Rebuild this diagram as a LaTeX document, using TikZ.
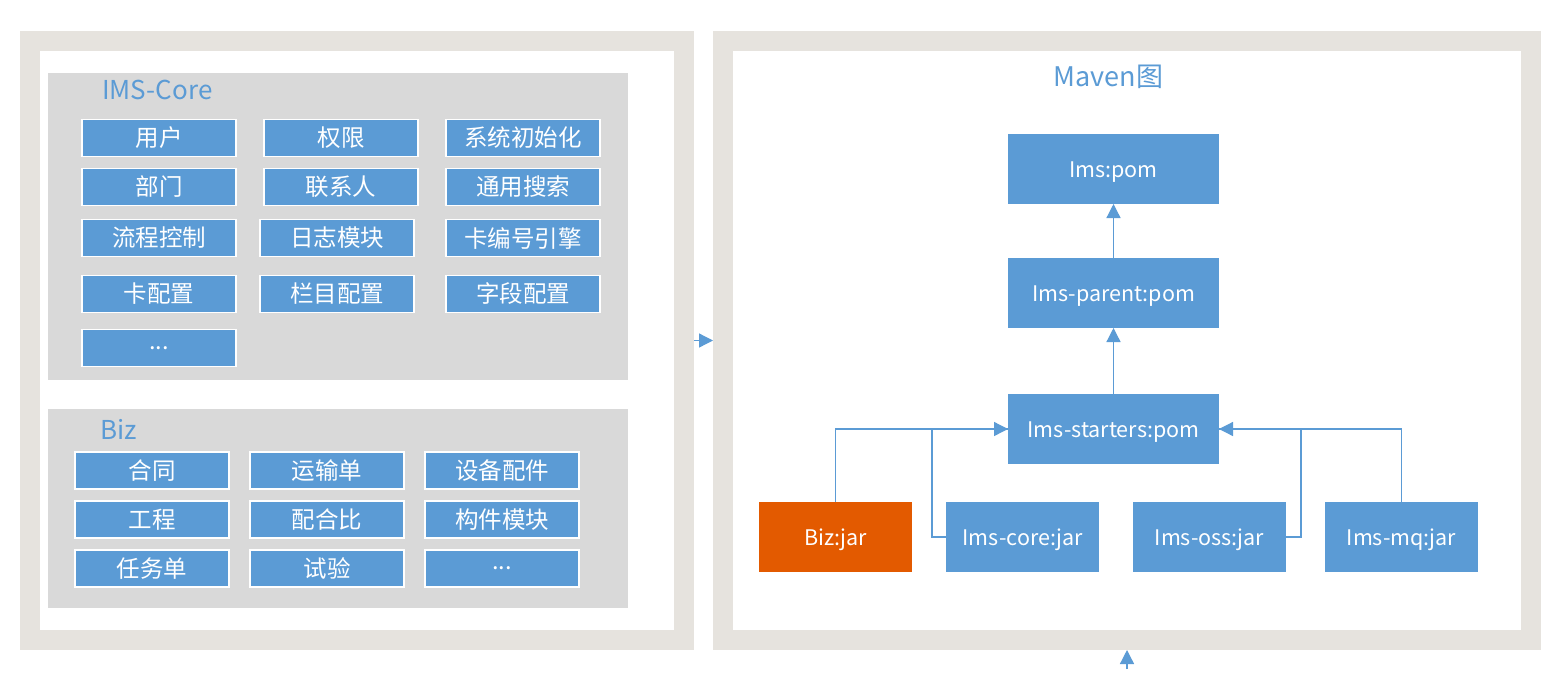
\documentclass[tikz,border=0pt]{standalone}
\usepackage{fontspec}
\setmainfont{Noto Sans CJK SC}
\usetikzlibrary{arrows.meta}
\definecolor{frame}{HTML}{E6E3DE}
\definecolor{grp}{HTML}{D9D9D9}
\definecolor{blu}{HTML}{5B9BD5}
\definecolor{orng}{HTML}{E35A00}
\tikzset{
  panelout/.style={fill=frame,draw=none,inner sep=0,outer sep=0},
  panelin/.style={fill=white,draw=none,inner sep=0,outer sep=0},
  group/.style={fill=grp,draw=none,inner sep=0,outer sep=0},
  item/.style={fill=blu,draw=white,line width=1.2pt,inner sep=0,outer sep=0,
    minimum width=154pt,minimum height=37pt,text=white,font=\fontsize{23.5}{26}\selectfont},
  mvn/.style={fill=blu,draw=none,inner sep=0,outer sep=0,text=white,
    text height=20pt,text depth=4pt,font=\fontsize{21.5}{24}\selectfont},
  jar/.style={mvn,minimum width=153pt,minimum height=70pt},
  pom/.style={mvn,minimum width=211pt,minimum height=70pt},
  ttl/.style={text=blu,inner sep=0,font=\fontsize{26}{30}\selectfont},
  conn/.style={draw=blu,line width=1.3pt},
  arr/.style={conn,-{Triangle[length=14pt,width=14pt]}},
}
\begin{document}
\begin{tikzpicture}[x=1pt,y=-1pt]
\useasboundingbox (0,0) rectangle (1561,678);
% panels
\node[panelout, minimum width=674pt, minimum height=619pt] (lpo) at (357,340.5) {};
\node[panelin, minimum width=634pt, minimum height=579pt] (lpi) at (357,340.5) {};
\node[panelout, minimum width=828pt, minimum height=619pt] (rpo) at (1127,340.5) {};
\node[panelin, minimum width=788pt, minimum height=579pt] (rpi) at (1127,340.5) {};
% groups
\node[group, minimum width=580pt, minimum height=307pt] (core) at (338,226.5) {};
\node[group, minimum width=580pt, minimum height=199pt] (bizg) at (338,508.5) {};
\node[ttl, anchor=west] (coret) at (102,90) {IMS-Core};
\node[ttl, anchor=west] (bizt) at (100,429) {Biz};
% core items
\node[item] (c11) at (159,138) {用户};
\node[item] (c12) at (341,138) {权限};
\node[item] (c13) at (523,138) {系统初始化};
\node[item] (c21) at (159,187) {部门};
\node[item] (c22) at (341,187) {联系人};
\node[item] (c23) at (523,187) {通用搜索};
\node[item] (c31) at (159,238) {流程控制};
\node[item] (c32) at (337,238) {日志模块};
\node[item] (c33) at (523,238) {卡编号引擎};
\node[item] (c41) at (159,294) {卡配置};
\node[item] (c42) at (337,294) {栏目配置};
\node[item] (c43) at (523,294) {字段配置};
\node[item] (c51) at (159,348) {...};
% biz items
\node[item] (b11) at (152,470.5) {合同};
\node[item] (b12) at (327,470.5) {运输单};
\node[item] (b13) at (502,470.5) {设备配件};
\node[item] (b21) at (152,519.5) {工程};
\node[item] (b22) at (327,519.5) {配合比};
\node[item] (b23) at (502,519.5) {构件模块};
\node[item] (b31) at (152,568.5) {任务单};
\node[item] (b32) at (327,568.5) {试验};
\node[item] (b33) at (502,568.5) {...};
% maven
\node[ttl, font=\fontsize{27}{31}\selectfont] (mt) at (1108.5,77) {Maven图};
\node[pom] (ims) at (1113.5,169) {Ims:pom};
\node[pom] (par) at (1113.5,293) {Ims-parent:pom};
\node[pom] (sta) at (1113.5,429) {Ims-starters:pom};
\node[jar, fill=orng] (bizj) at (835.5,537) {Biz:jar};
\node[jar] (corej) at (1022.5,537) {Ims-core:jar};
\node[jar] (ossj) at (1209.5,537) {Ims-oss:jar};
\node[jar] (mqj) at (1401.5,537) {Ims-mq:jar};
% connectors
\draw[arr] (par.north) -- (ims.south);
\draw[arr] (sta.north) -- (par.south);
\draw[arr] (bizj.north) |- (sta.west);
\draw[conn] (corej.west) -- ++(-14,0) |- (sta.west);
\draw[arr] (mqj.north) |- (sta.east);
\draw[conn] (ossj.east) -- ++(15,0) |- (sta.east);
\draw[arr] (lpo.east) -- (rpo.west);
\coordinate (bst) at (1127,669);
\draw[arr] (bst) -- (rpo.south);
\end{tikzpicture}
\end{document}
